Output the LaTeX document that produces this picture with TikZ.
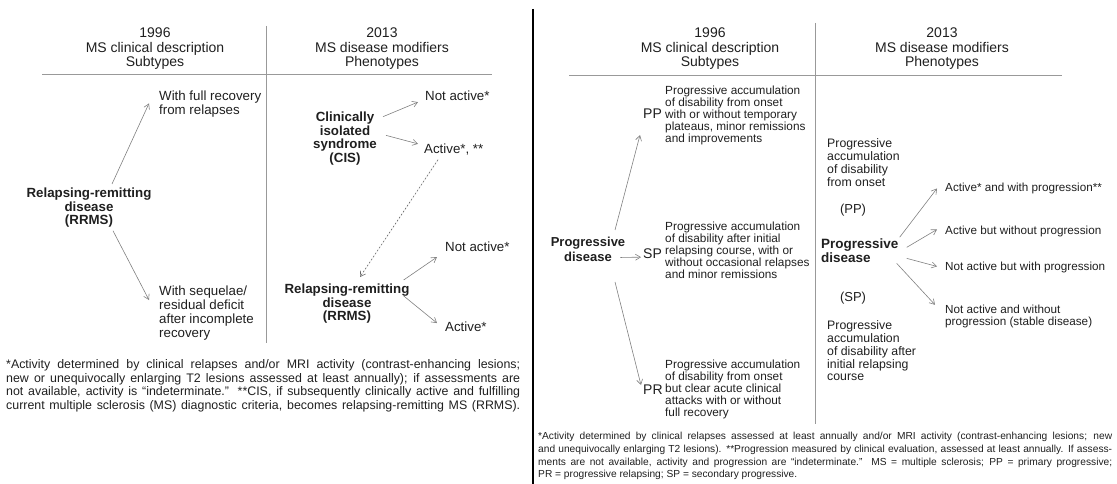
\documentclass[tikz,border=0pt]{standalone}
\usepackage{fontspec}
\setmainfont{Liberation Sans}
\usetikzlibrary{arrows.meta}
\definecolor{inkgray}{gray}{0.12}
\definecolor{rulegray}{gray}{0.6}
\definecolor{arrowgray}{gray}{0.5}
\tikzset{
  txt/.style={inner sep=0pt, text=inkgray, align=left},
  hdr/.style={txt, align=center, font=\fontsize{14}{14.5}\selectfont},
  lbl/.style={txt, font=\fontsize{13.3}{14}\selectfont},
  boldlbl/.style={txt, align=center, font=\fontsize{13.3}{13.5}\selectfont\bfseries},
  desc/.style={txt, font=\fontsize{11.8}{12}\selectfont},
  tag/.style={txt, font=\fontsize{14}{14}\selectfont},
  pheno/.style={txt, font=\fontsize{12.3}{12.8}\selectfont},
  outc/.style={txt, font=\fontsize{11.7}{12}\selectfont},
  footl/.style={txt, font=\fontsize{12.4}{13.5}\selectfont},
  footr/.style={txt, font=\fontsize{10.2}{12.6}\selectfont},
  conn/.style={draw=arrowgray, line width=0.6pt, -{Straight Barb[length=5pt,width=6pt]}},
  dashconn/.style={conn, draw=gray!80!black, dash pattern=on 2pt off 1.6pt}
}
\begin{document}
\begin{tikzpicture}[x=1pt,y=-1pt]
\useasboundingbox (0,0) rectangle (1117,484);
% left panel
\node[hdr, anchor=north] (hdrLa) at (155,28) {1996\\MS clinical description\\Subtypes};
\node[hdr, anchor=north] (hdrLb) at (382,28) {2013\\MS disease modifiers\\Phenotypes};
\draw[rulegray, line width=0.8pt] (42,74) -- (492,74);
\draw[rulegray, line width=0.8pt] (266,26) -- (266,343);

\node[boldlbl, anchor=north] (rrmsL) at (89,188) {Relapsing-remitting\\disease\\(RRMS)};
\node[lbl, anchor=north west] (fullrec) at (159,91) {With full recovery\\from relapses};
\node[lbl, anchor=north west] (sequel) at (159,286) {With sequelae/\\residual deficit\\after incomplete\\recovery};
\draw[conn] ([shift={(23,-4)}]rrmsL.north) -- ([shift={(-10,-1)}]fullrec.west);
\draw[conn] ([shift={(24,3)}]rrmsL.south) -- ([shift={(-10,14)}]sequel.north west);

\node[boldlbl, anchor=north] (cis) at (345,111.7) {Clinically\\isolated\\syndrome\\(CIS)};
\node[lbl, anchor=north west] (cisNot) at (425,91) {Not active*};
\node[lbl, anchor=north west] (cisAct) at (424,144) {Active*, **};
\draw[conn] ([shift={(6,5)}]cis.north east) -- ([shift={(-7,6)}]cisNot.west);
\draw[conn] ([shift={(9,-3)}]cis.east) -- ([shift={(-6,-6)}]cisAct.west);

\node[boldlbl, anchor=north] (rrmsR) at (347,284) {Relapsing-remitting\\disease\\(RRMS)};
\node[lbl, anchor=north west] (rrNot) at (445,242) {Not active*};
\node[lbl, anchor=north west] (rrAct) at (445,322) {Active*};
\draw[dashconn] ([shift={(14,4)}]cisAct.south west) -- ([shift={(13,-7)}]rrmsR.north);
\draw[conn] ([shift={(-6,-4)}]rrmsR.north east) -- ([shift={(-8,10)}]rrNot.west);
\draw[conn] ([shift={(-6,-8)}]rrmsR.east) -- ([shift={(-8,-4)}]rrAct.west);

\node[footl, anchor=north west] (noteL) at (6,359.5) {%
\makebox[514pt][s]{*Activity determined by clinical relapses and/or MRI activity (contrast-enhancing lesions;}\\
\makebox[514pt][s]{new or unequivocally enlarging T2 lesions assessed at least annually); if assessments are}\\
\makebox[514pt][s]{not available, activity is “indeterminate.” **CIS, if subsequently clinically active and fulfilling}\\
\makebox[514pt][s]{current multiple sclerosis (MS) diagnostic criteria, becomes relapsing-remitting MS (RRMS).}};

% divider
\draw[black, line width=2.5pt] (533,9) -- (533,484);

% right panel
\node[hdr, anchor=north] (hdrRa) at (710,28) {1996\\MS clinical description\\Subtypes};
\node[hdr, anchor=north] (hdrRb) at (942,28) {2013\\MS disease modifiers\\Phenotypes};
\draw[rulegray, line width=0.8pt] (569,75) -- (1062,75);
\draw[rulegray, line width=0.8pt] (815,23) -- (815,424);

\node[boldlbl, font=\fontsize{13}{15}\selectfont\bfseries, anchor=north] (pdL) at (588,237) {Progressive\\disease};
\node[tag, anchor=north west] (ppL) at (643,109) {PP};
\node[tag, anchor=north west] (spL) at (643,249) {SP};
\node[tag, anchor=north west] (prL) at (643,385) {PR};
\node[desc, anchor=north west] (ppD) at (665,85.7) {Progressive accumulation\\of disability from onset\\with or without temporary\\plateaus, minor remissions\\and improvements};
\node[desc, anchor=north west] (spD) at (665,221.7) {Progressive accumulation\\of disability after initial\\relapsing course, with or\\without occasional relapses\\and minor remissions};
\node[desc, anchor=north west] (prD) at (665,359.7) {Progressive accumulation\\of disability from onset\\but clear acute clinical\\attacks with or without\\full recovery};
\draw[conn] ([shift={(27,-7)}]pdL.north) -- ([shift={(-3,16)}]ppL.south west);
\draw[conn] ([shift={(-5,8)}]pdL.east) -- ([shift={(-2,3)}]spL.west);
\draw[conn] ([shift={(27,20)}]pdL.south) -- ([shift={(-2,0)}]prL.north west);

\node[pheno, anchor=north west] (ppR) at (827,138.6) {Progressive\\accumulation\\of disability\\from onset};
\node[pheno, font=\fontsize{13}{13}\selectfont, anchor=north] (ppTag) at (853,203.4) {(PP)};
\node[boldlbl, align=left, font=\fontsize{13.5}{14}\selectfont\bfseries, anchor=north west] (pdR) at (821,238.2) {Progressive\\disease};
\node[pheno, font=\fontsize{13}{13}\selectfont, anchor=north] (spTag) at (853,291.4) {(SP)};
\node[pheno, anchor=north west] (spR) at (827,320.6) {Progressive\\accumulation\\of disability after\\initial relapsing\\course};

\node[outc, anchor=north west] (outA) at (945,182.8) {Active* and with progression**};
\node[outc, anchor=north west] (outB) at (945,225.8) {Active but without progression};
\node[outc, anchor=north west] (outC) at (945,261.8) {Not active but with progression};
\node[outc, anchor=north west] (outD) at (945,304.8) {Not active and without\\progression (stable disease)};
\draw[conn] ([shift={(1,-1)}]pdR.north east) -- ([shift={(-8,0)}]outA.west);
\draw[conn] ([shift={(8,-3)}]pdR.east) -- ([shift={(-8,-2)}]outB.west);
\draw[conn] ([shift={(8,8)}]pdR.east) -- ([shift={(-8,-1)}]outC.west);
\draw[conn] ([shift={(-2,13)}]pdR.east) -- ([shift={(-10,0)}]outD.north west);

\node[footr, anchor=north west] (noteR) at (538,432.3) {%
\makebox[574pt][s]{*Activity determined by clinical relapses assessed at least annually and/or MRI activity (contrast-enhancing lesions; new}\\
\makebox[574pt][s]{and unequivocally enlarging T2 lesions). **Progression measured by clinical evaluation, assessed at least annually. If assess-}\\
\makebox[574pt][s]{ments are not available, activity and progression are “indeterminate.” MS = multiple sclerosis; PP = primary progressive;}\\
PR = progressive relapsing; SP = secondary progressive.};
\end{tikzpicture}
\end{document}
